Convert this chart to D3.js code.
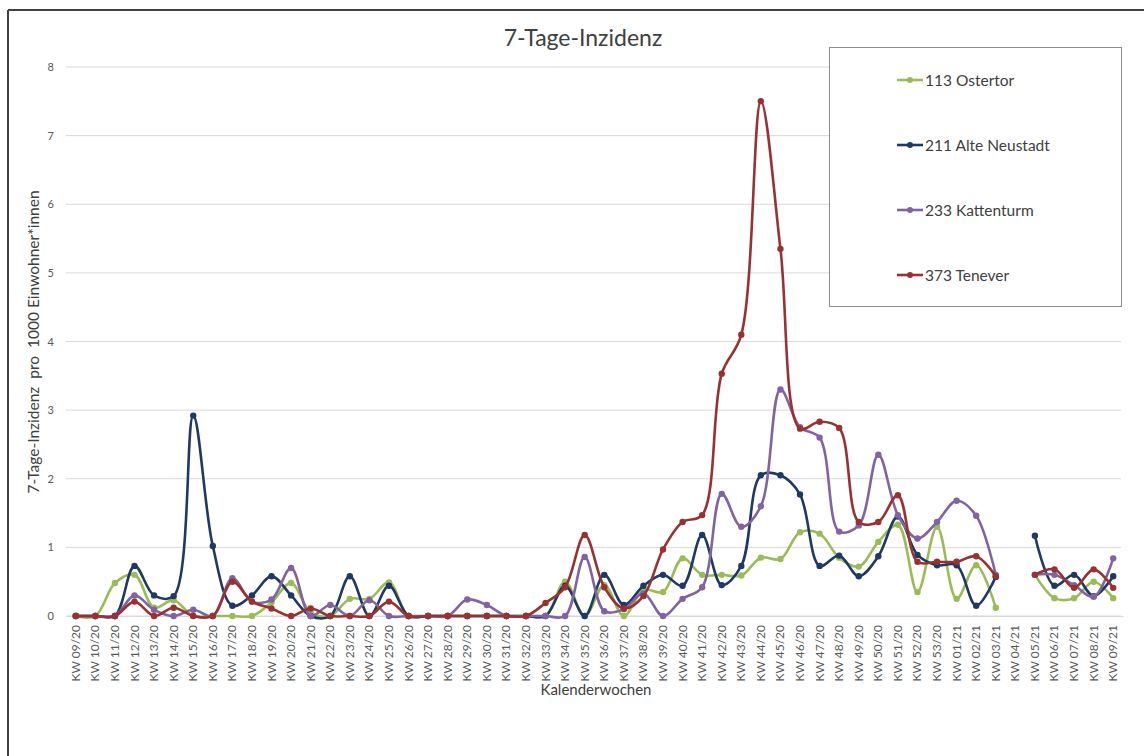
<!DOCTYPE html>
<html>
<head>
<meta charset="utf-8">
<script src="https://cdn.jsdelivr.net/npm/d3@7"></script>
<style>
  html, body { margin: 0; padding: 0; background: #fff; }
  svg { display: block; font-family: Lato, "Open Sans", sans-serif; }
</style>
</head>
<body>
<svg id="chart" width="1144" height="756"></svg>
<script>
const categories = ["KW 09/20","KW 10/20","KW 11/20","KW 12/20","KW 13/20","KW 14/20","KW 15/20","KW 16/20","KW 17/20","KW 18/20","KW 19/20","KW 20/20","KW 21/20","KW 22/20","KW 23/20","KW 24/20","KW 25/20","KW 26/20","KW 27/20","KW 28/20","KW 29/20","KW 30/20","KW 31/20","KW 32/20","KW 33/20","KW 34/20","KW 35/20","KW 36/20","KW 37/20","KW 38/20","KW 39/20","KW 40/20","KW 41/20","KW 42/20","KW 43/20","KW 44/20","KW 45/20","KW 46/20","KW 47/20","KW 48/20","KW 49/20","KW 50/20","KW 51/20","KW 52/20","KW 53/20","KW 01/21","KW 02/21","KW 03/21","KW 04/21","KW 05/21","KW 06/21","KW 07/21","KW 08/21","KW 09/21"];

const ostertor = [0,0,0.48,0.6,0.12,0.23,0,0,0,0,0.2,0.48,0.05,0,0.25,0.25,0.49,0,
  0,0,0,0,0,0,0,
  0.5,0,0.45,0,0.38,0.35,0.84,0.6,0.6,0.59,0.85,0.83,1.22,1.2,0.85,0.72,1.08,1.33,0.35,1.3,0.25,0.74,0.12,null,0.6,0.26,0.26,0.5,0.26];

const alteNeustadt = [0,0,0,0.73,0.3,0.29,2.92,1.02,0.15,0.3,0.58,0.3,0,0,0.58,0,0.44,0,
  0,0,0,0,0,0,0,
  0.44,0,0.6,0.16,0.44,0.6,0.44,1.18,0.45,0.73,2.05,2.05,1.77,0.73,0.88,0.58,0.87,1.45,0.89,0.74,0.74,0.15,0.57,null,1.17,0.44,0.6,0.29,0.58];

const kattenturm = [0,0,0,0.3,0.09,0,0.09,0,0.55,0.21,0.24,0.7,0,0.16,0,0.23,0,0,
  0,0,0.24,0.16,0,0,0,
  0,0.86,0.07,0.1,0.33,0,0.25,0.42,1.78,1.3,1.6,3.3,2.75,2.6,1.23,1.32,2.35,1.47,1.13,1.37,1.68,1.46,0.6,null,0.6,0.6,0.45,0.28,0.84];

const tenever = [0,0,0,0.21,0,0.12,0,0,0.5,0.21,0.11,0,0.11,0,0,0,0.21,0,
  0,0,0,0,0,0,0.19,
  0.42,1.18,0.42,0.11,0.29,0.97,1.37,1.47,3.53,4.1,7.5,5.35,2.73,2.83,2.74,1.37,1.37,1.76,0.79,0.79,0.79,0.87,0.58,null,0.6,0.68,0.41,0.68,0.41];

const seriesNames = ["113 Ostertor","211 Alte Neustadt","233 Kattenturm","373 Tenever"];
const seriesValues = [ostertor, alteNeustadt, kattenturm, tenever];
const seriesColors = ["#9bbb59","#1f3864","#8064a2","#983232"];
const yTicks = [0,1,2,3,4,5,6,7,8];

const svg = d3.select("#chart");

// outer frame (left + top)
svg.append("line").attr("x1",8).attr("y1",10).attr("x2",1144).attr("y2",10)
  .attr("stroke","#404040").attr("stroke-width",2);
svg.append("line").attr("x1",8).attr("y1",10).attr("x2",8).attr("y2",756)
  .attr("stroke","#404040").attr("stroke-width",2);

const x = d3.scaleBand().domain(categories).range([66, 1123]);
const y = d3.scaleLinear().domain([0, 8]).range([616, 67]);
const cx = d => x(d) + x.bandwidth() / 2;

// gridlines
svg.append("g").selectAll("line").data(yTicks).join("line")
  .attr("x1", 66).attr("x2", 1121)
  .attr("y1", d => y(d)).attr("y2", d => y(d))
  .attr("stroke", "#d9d9d9").attr("stroke-width", 1);

// y axis tick labels
const yAxis = d3.axisLeft(y).tickValues(yTicks).tickSize(0).tickPadding(0).tickFormat(d3.format("d"));
const gy = svg.append("g").attr("transform", "translate(54,0)").call(yAxis);
gy.select(".domain").remove();
gy.selectAll("text").attr("fill", "#595959").style("font-size", "11px")
  .style("font-family", "Lato, 'Open Sans', sans-serif");

// x axis tick labels
const xAxis = d3.axisBottom(x).tickSize(0).tickPadding(0);
const gx = svg.append("g").attr("transform", "translate(0,616)").call(xAxis);
gx.select(".domain").attr("stroke", "#d9d9d9");
gx.selectAll("text")
  .attr("fill", "#595959").style("font-size", "12px")
  .style("font-family", "Lato, 'Open Sans', sans-serif")
  .attr("text-anchor", "end")
  .attr("transform", "translate(4,9) rotate(-90)")
  .attr("dy", "0").attr("y", 0).attr("x", 0);

// lines
const line = d3.line()
  .defined(d => d.v !== null)
  .x(d => cx(d.c))
  .y(d => y(d.v))
  .curve(d3.curveCatmullRom.alpha(0.5));

seriesValues.forEach((vals, i) => {
  const pts = categories.map((c, j) => ({ c, v: vals[j] }));
  const g = svg.append("g");
  g.append("path").datum(pts)
    .attr("d", line)
    .attr("fill", "none")
    .attr("stroke", seriesColors[i])
    .attr("stroke-width", 2.6)
    .attr("stroke-linejoin", "round");
  g.selectAll("circle").data(pts.filter(p => p.v !== null)).join("circle")
    .attr("cx", p => cx(p.c)).attr("cy", p => y(p.v)).attr("r", 3.2)
    .attr("fill", seriesColors[i]);
});

// title
svg.append("text").attr("x", 583).attr("y", 46).attr("text-anchor", "middle")
  .attr("fill", "#404040").style("font-size", "23px").text("7-Tage-Inzidenz");

// y axis title
svg.append("text")
  .attr("transform", "translate(39,342) rotate(-90)")
  .attr("text-anchor", "middle")
  .attr("fill", "#404040").style("font-size", "15.5px")
  .style("white-space", "pre")
  .attr("xml:space", "preserve")
  .text("7-Tage-Inzidenz  pro  1000 Einwohner*innen");

// x axis title
svg.append("text").attr("x", 596).attr("y", 695).attr("text-anchor", "middle")
  .attr("fill", "#404040").style("font-size", "15px").text("Kalenderwochen");

// legend
svg.append("rect").attr("x", 829.5).attr("y", 47.5).attr("width", 292).attr("height", 259)
  .attr("fill", "#fff").attr("stroke", "#8c8c8c").attr("stroke-width", 1);
const legendY = [80, 145, 210, 275];
seriesNames.forEach((name, i) => {
  const g = svg.append("g").attr("transform", `translate(0,${legendY[i]})`);
  g.append("line").attr("x1", 897).attr("x2", 923).attr("y1", 0).attr("y2", 0)
    .attr("stroke", seriesColors[i]).attr("stroke-width", 2.6);
  g.append("circle").attr("cx", 910).attr("cy", 0).attr("r", 3).attr("fill", seriesColors[i]);
  g.append("text").attr("x", 925).attr("y", 5.5).attr("fill", "#404040")
    .style("font-size", "15.5px").text(name);
});
</script>
</body>
</html>
